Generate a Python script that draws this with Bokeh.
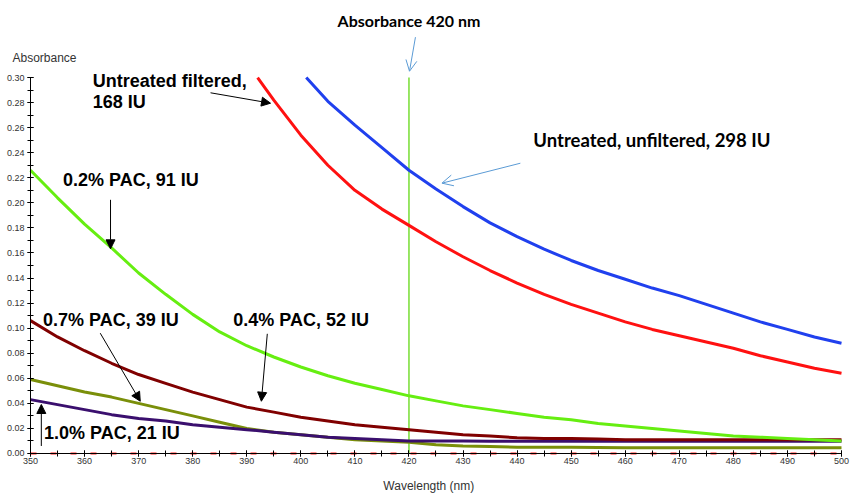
from bokeh.plotting import figure
from bokeh.models import Range1d, Label, Arrow, NormalHead, OpenHead, SingleIntervalTicker, PrintfTickFormatter
from bokeh.embed import file_html
from bokeh.resources import INLINE

# ---------------- data ----------------
wl_unfiltered = [401, 405, 410, 415, 420, 425, 430, 435, 440, 445, 450, 455, 460, 465, 470, 475, 480, 485, 490, 495, 500]
abs_unfiltered = [0.300, 0.281, 0.262, 0.244, 0.226, 0.211, 0.197, 0.184, 0.173, 0.163, 0.154, 0.146, 0.139, 0.132, 0.126, 0.119, 0.112, 0.105, 0.099, 0.093, 0.088]

wl_filtered = [392, 395, 400, 405, 410, 415, 420, 425, 430, 435, 440, 445, 450, 455, 460, 465, 470, 475, 480, 485, 490, 495, 500]
abs_filtered = [0.300, 0.282, 0.254, 0.230, 0.210, 0.195, 0.182, 0.169, 0.157, 0.146, 0.136, 0.127, 0.119, 0.112, 0.105, 0.099, 0.094, 0.089, 0.084, 0.078, 0.073, 0.068, 0.064]

wl_pac = [350, 355, 360, 365, 370, 375, 380, 385, 390, 395, 400, 405, 410, 415, 420, 425, 430, 435, 440, 445, 450, 455, 460, 465, 470, 475, 480, 485, 490, 495, 500]
abs_pac02 = [0.226, 0.204, 0.183, 0.164, 0.144, 0.127, 0.111, 0.097, 0.086, 0.077, 0.069, 0.062, 0.056, 0.051, 0.046, 0.042, 0.038, 0.035, 0.032, 0.029, 0.027, 0.024, 0.022, 0.020, 0.018, 0.016, 0.014, 0.013, 0.012, 0.011, 0.010]
abs_pac04 = [0.106, 0.093, 0.082, 0.072, 0.063, 0.056, 0.049, 0.043, 0.037, 0.033, 0.029, 0.026, 0.023, 0.021, 0.019, 0.017, 0.015, 0.014, 0.0125, 0.012, 0.012, 0.0115, 0.011, 0.011, 0.011, 0.011, 0.011, 0.011, 0.011, 0.011, 0.011]
abs_pac07 = [0.059, 0.054, 0.049, 0.045, 0.040, 0.035, 0.030, 0.025, 0.020, 0.017, 0.015, 0.013, 0.011, 0.010, 0.009, 0.007, 0.006, 0.0055, 0.005, 0.005, 0.005, 0.0048, 0.0045, 0.0045, 0.0045, 0.0045, 0.0045, 0.0045, 0.0045, 0.0045, 0.0045]
abs_pac10 = [0.043, 0.039, 0.035, 0.031, 0.028, 0.026, 0.023, 0.021, 0.019, 0.017, 0.015, 0.013, 0.012, 0.011, 0.010, 0.010, 0.010, 0.0098, 0.0098, 0.0098, 0.0098, 0.0098, 0.0098, 0.0098, 0.0098, 0.0098, 0.0098, 0.0098, 0.0098, 0.0098, 0.0098]

wl_baseline = [350, 500]
abs_baseline = [0.0, 0.0]

reference_wavelength = 420
x_min, x_max = 350, 500
y_min, y_max = 0.0, 0.30

x_title = "Wavelength (nm)"
y_title = "Absorbance"
ref_title = "Absorbance 420 nm"

# ---------------- figure ----------------
# frame covers the whole canvas; axes are pinned at x=350 / y=0
p = figure(width=850, height=496, output_backend="svg", toolbar_location=None,
           x_range=Range1d(344.451, 501.666), y_range=Range1d(-0.03431, 0.36144),
           min_border=0)
p.outline_line_color = None
p.grid.visible = False
p.background_fill_color = "white"
p.border_fill_color = "white"

TICK_FONT = "Liberation Sans"
for ax in (p.xaxis[0], p.yaxis[0]):
    ax.axis_line_color = "black"
    ax.major_tick_line_color = "black"
    ax.minor_tick_line_color = "black"
    ax.major_tick_in = 3
    ax.major_tick_out = 3
    ax.minor_tick_in = 3
    ax.minor_tick_out = 3
    ax.major_label_text_font = TICK_FONT
    ax.major_label_text_font_size = "9px"
    ax.major_label_text_color = "#333333"

p.xaxis[0].ticker = SingleIntervalTicker(interval=10, num_minor_ticks=2)
p.xaxis[0].bounds = (x_min, x_max)
p.xaxis[0].fixed_location = y_min
p.xaxis[0].major_label_standoff = 2

p.yaxis[0].ticker = SingleIntervalTicker(interval=0.02, num_minor_ticks=2)
p.yaxis[0].bounds = (y_min, y_max)
p.yaxis[0].fixed_location = x_min
p.yaxis[0].formatter = PrintfTickFormatter(format="%.2f")
p.yaxis[0].major_label_standoff = 3

# baseline trace along zero
p.line(wl_baseline, abs_baseline, line_color="#ff2020", line_width=2, line_dash="6 14")

# reference wavelength line
p.segment(x0=[reference_wavelength], y0=[y_min], x1=[reference_wavelength], y1=[y_max],
          line_color="#77dd33", line_width=1.5)

# curves
p.line(wl_pac, abs_pac07, line_color="#7a8f0a", line_width=3)
p.line(wl_pac, abs_pac10, line_color="#3a0f6e", line_width=3)
p.line(wl_pac, abs_pac04, line_color="#800000", line_width=3)
p.line(wl_pac, abs_pac02, line_color="#66ee11", line_width=3)
p.line(wl_filtered, abs_filtered, line_color="#ff1111", line_width=3)
p.line(wl_unfiltered, abs_unfiltered, line_color="#2040ee", line_width=3)

# ---------------- annotations ----------------
BOLD = "Liberation Sans"
CAL = "Lato"

def label(x, y, text, font=BOLD, size="18px", style="bold", color="black", align="left"):
    p.add_layout(Label(x=x, y=y, text=text, text_font=font, text_font_size=size,
                       text_font_style=style, text_color=color, text_baseline="alphabetic",
                       text_align=align))

label(361.5, 0.2976, "Untreated filtered,")
label(361.5, 0.2803, "168 IU")
label(356.0, 0.2186, "0.2% PAC, 91 IU")
label(352.3, 0.1069, "0.7% PAC, 39 IU")
label(387.5, 0.1069, "0.4% PAC, 52 IU")
label(352.5, 0.0160, "1.0% PAC, 21 IU")
label(406.8, 0.3455, ref_title, font=CAL, size="16px")
label(443.0, 0.2505, "Untreated, unfiltered, 298 IU", font=CAL, size="18.5px")
label(346.67, 0.3154, y_title, font=TICK_FONT, size="12px", style="normal", color="#333333")
label(423.67, -0.0262, x_title, font=TICK_FONT, size="12px", style="normal", color="#333333", align="center")

def black_arrow(x0, y0, x1, y1):
    p.add_layout(Arrow(end=NormalHead(size=9, fill_color="black", line_color="black"),
                       x_start=x0, y_start=y0, x_end=x1, y_end=y1,
                       line_color="black", line_width=1))

def blue_arrow(x0, y0, x1, y1):
    p.add_layout(Arrow(end=OpenHead(size=11, line_color="#5b9bd5", line_width=1),
                       x_start=x0, y_start=y0, x_end=x1, y_end=y1,
                       line_color="#5b9bd5", line_width=1))

black_arrow(383.3, 0.2878, 394.4, 0.2795)
black_arrow(364.8, 0.2024, 364.8, 0.1633)
black_arrow(362.9, 0.0960, 370.3, 0.0417)
black_arrow(393.8, 0.0955, 392.7, 0.0417)
black_arrow(352.0, 0.0060, 352.0, 0.0391)
blue_arrow(421.2, 0.3322, 420.1, 0.3050)
blue_arrow(440.6, 0.2316, 426.1, 0.2157)

open("out.html", "w").write(file_html(p, INLINE))
